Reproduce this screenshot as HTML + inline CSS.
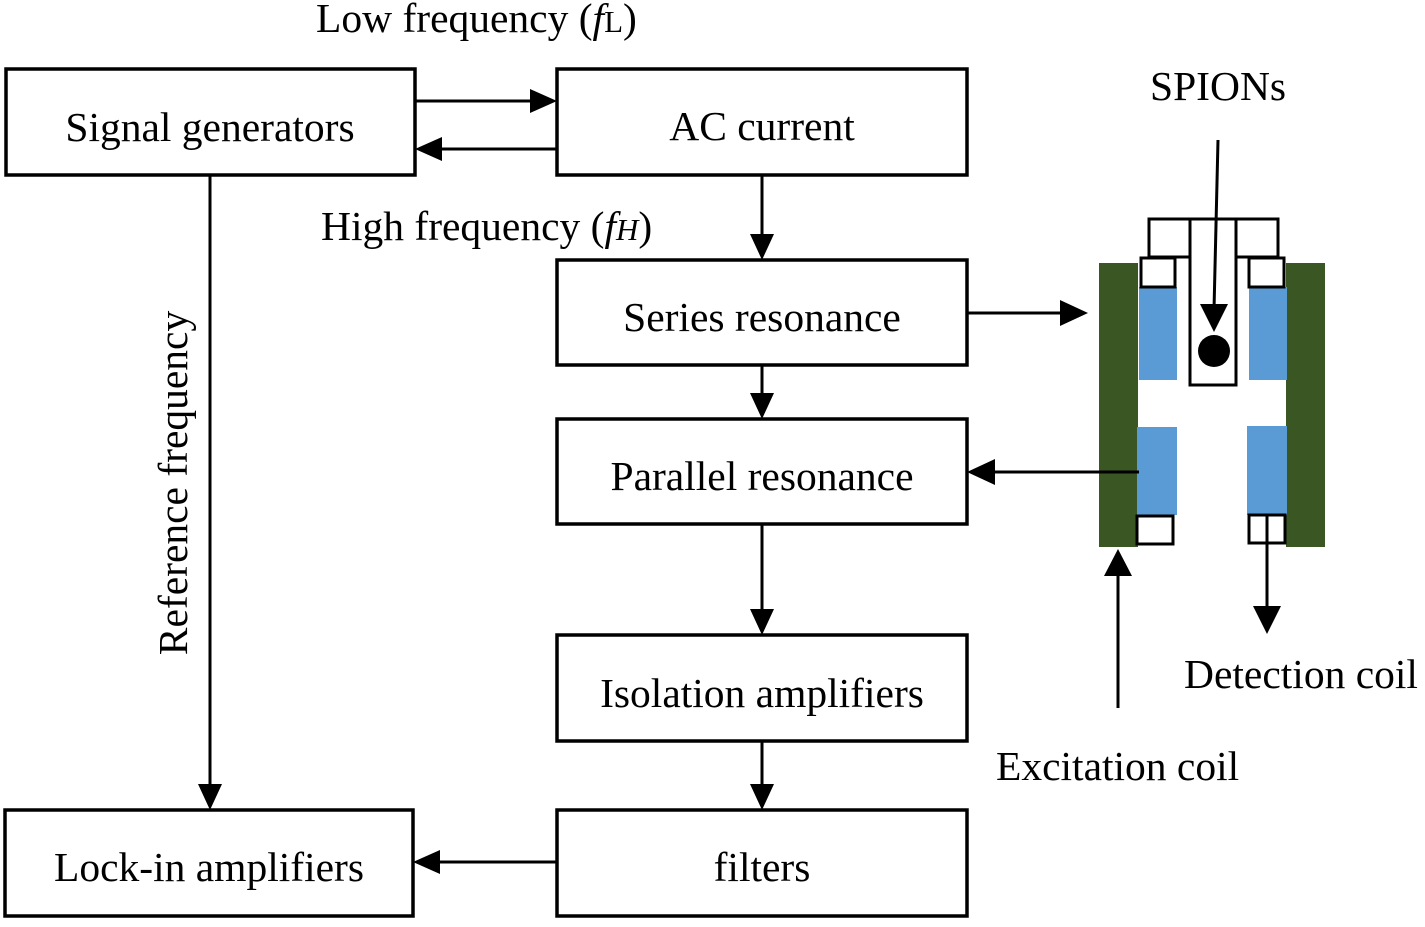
<!DOCTYPE html>
<html><head><style>
body{margin:0;background:#fff;}
svg text{font-family:"Liberation Serif",serif;font-size:41.5px;fill:#000;}
</style></head><body>
<svg width="1425" height="922" viewBox="0 0 1425 922" xmlns="http://www.w3.org/2000/svg">
<g fill="none" stroke="#000" stroke-width="3.5">
<rect x="6" y="69" width="409" height="106"/>
<rect x="557" y="69" width="410" height="106"/>
<rect x="557" y="260" width="410" height="105"/>
<rect x="557" y="419" width="410" height="105"/>
<rect x="557" y="635" width="410" height="106"/>
<rect x="557" y="810" width="410" height="106"/>
<rect x="5" y="810" width="408" height="106"/>
</g>
<rect x="1099" y="263" width="39" height="284" fill="#3a5623"/>
<rect x="1286" y="263" width="39" height="284" fill="#3a5623"/>
<rect x="1139" y="287" width="38" height="93" fill="#5b9bd5"/>
<rect x="1249" y="287" width="38" height="93" fill="#5b9bd5"/>
<rect x="1137" y="427" width="40" height="88" fill="#5b9bd5"/>
<rect x="1247" y="426" width="40" height="89" fill="#5b9bd5"/>
<g stroke="#000" stroke-width="3">
<line x1="415" y1="101" x2="532" y2="101"/>
<line x1="557" y1="149" x2="440" y2="149"/>
<line x1="762" y1="175" x2="762" y2="236"/>
<line x1="762" y1="365" x2="762" y2="396"/>
<line x1="762" y1="524" x2="762" y2="611"/>
<line x1="762" y1="741" x2="762" y2="786"/>
<line x1="557" y1="862" x2="438" y2="862"/>
<line x1="210" y1="175" x2="210" y2="786"/>
<line x1="967" y1="313" x2="1062" y2="313"/>
<line x1="1139" y1="472" x2="993" y2="472"/>
<line x1="1118" y1="708" x2="1118" y2="575"/>
<line x1="1267" y1="543" x2="1267" y2="610"/>
</g>
<g fill="#000">
<polygon points="557,101 530,89 530,113"/>
<polygon points="415,149 442,137 442,161"/>
<polygon points="762,260 750,234 774,234"/>
<polygon points="762,419 750,393 774,393"/>
<polygon points="762,635 750,609 774,609"/>
<polygon points="762,810 750,784 774,784"/>
<polygon points="413,862 440,850 440,874"/>
<polygon points="210,810 198,784 222,784"/>
<polygon points="1088,313 1060,300 1060,326"/>
<polygon points="967,472 995,459 995,485"/>
<polygon points="1118,549 1104,576 1132,576"/>
<polygon points="1267,634 1253,606 1281,606"/>
</g>
<g fill="#fff" stroke="#000" stroke-width="3">
<rect x="1149" y="219" width="41" height="38"/>
<rect x="1236" y="219" width="42" height="38"/>
<rect x="1190" y="219" width="46" height="166"/>
<rect x="1141" y="258" width="34" height="29"/>
<rect x="1249" y="258" width="35" height="29"/>
<rect x="1137" y="516" width="36" height="28"/>
<rect x="1249" y="515" width="36" height="28"/>
<line x1="1267" y1="515" x2="1267" y2="543"/>
</g>
<line x1="1218" y1="140" x2="1214" y2="310" stroke="#000" stroke-width="3"/>
<polygon points="1214,332 1200,304 1228,304" fill="#000"/>
<circle cx="1214" cy="351" r="16" fill="#000"/>
<text x="210" y="141" text-anchor="middle">Signal generators</text>
<text x="762" y="140" text-anchor="middle">AC current</text>
<text x="762" y="331" text-anchor="middle">Series resonance</text>
<text x="762" y="490" text-anchor="middle">Parallel resonance</text>
<text x="762" y="707" text-anchor="middle">Isolation amplifiers</text>
<text x="762" y="881" text-anchor="middle">filters</text>
<text x="209" y="881" text-anchor="middle">Lock-in amplifiers</text>
<text x="316" y="32">Low frequency (<tspan font-style="italic">f</tspan><tspan font-size="31">L</tspan>)</text>
<text x="321" y="240">High frequency (<tspan font-style="italic">f<tspan font-size="31">H</tspan></tspan>)</text>
<text x="1150" y="100">SPIONs</text>
<text x="1184" y="688">Detection coil</text>
<text x="996" y="780">Excitation coil</text>
<text transform="translate(187,483) rotate(-90)" text-anchor="middle">Reference frequency</text>
</svg>
</body></html>
